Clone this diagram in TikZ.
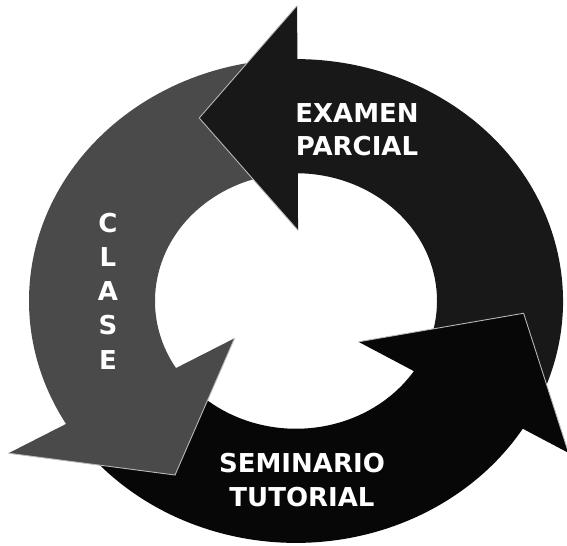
\documentclass[tikz,border=0pt]{standalone}
\usepackage{fontspec}
\newfontfamily\cyclefont{DejaVu Sans}
\usepackage{tikz}
\usetikzlibrary{positioning}

\definecolor{examenFill}{HTML}{181818}
\definecolor{claseFill}{HTML}{4A4A4A}
\definecolor{seminarioFill}{HTML}{070707}

\begin{document}
\begin{tikzpicture}[x=0.02cm, y=0.02cm,
    txt/.style={text=white, align=center, inner sep=0pt,
                font=\cyclefont\bfseries\fontsize{14.8}{19}\selectfont},
    seam/.style={draw=gray!55, line width=0.5pt, line join=miter}
  ]
  \useasboundingbox (0,0) rectangle (567,545);
  \begin{scope}[shift={(296,244)}, yscale=0.906]
    % Arrow bodies (ring pieces)
    \foreach \col/\from/\to in {examenFill/-31/92, claseFill/91/216,
                                seminarioFill/215/330} {
      \fill[\col] (\from:267) arc[start angle=\from, end angle=\to, radius=267]
        -- (\to:141) arc[start angle=\to, end angle=\from, radius=141] -- cycle;
    }
    % Arrow heads, drawn over the next tail
    \foreach \col/\ao/\ro/\at/\rt/\ai/\ri in {examenFill/89.8/326/115.6/224/88.5/78,
                                            claseFill/210.3/333/237.8/227/213.8/74,
                                            seminarioFill/328.4/320/356.6/228/324.2/77} {
      \fill[\col] (\ao:\ro) -- (\at:\rt) -- (\ai:\ri) -- cycle;
      \draw[seam] (\ao:\ro) -- (\at:\rt) -- (\ai:\ri);
    }
  \end{scope}
  % Labels
  \node[txt] (examen) at (357,415) {EXAMEN\\PARCIAL};
  \node[txt] (seminario) at (302,65) {SEMINARIO\\TUTORIAL};
  \node[txt, font=\cyclefont\bfseries\fontsize{14.8}{19.5}\selectfont]
    (clase) at (108,254) {C\\L\\A\\S\\E};
\end{tikzpicture}
\end{document}
